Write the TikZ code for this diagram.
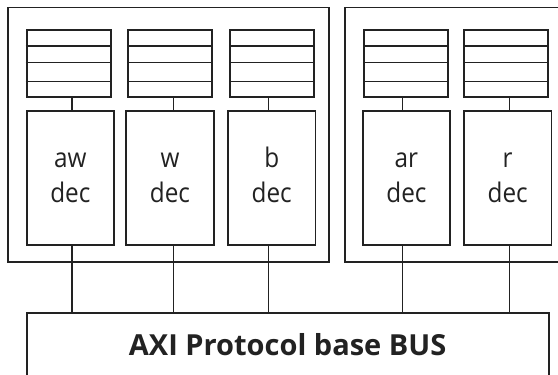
\documentclass[tikz,border=0pt]{standalone}
\usepackage{fontspec}
\setmainfont{Open Sans}
\newfontfamily\decfont[FakeStretch=0.9]{Open Sans}
\newfontfamily\busfont{Open Sans}
\usetikzlibrary{calc}
\definecolor{ink}{HTML}{222222}
\begin{document}
\begin{tikzpicture}[x=1pt,y=-1pt,
  group/.style={draw=ink,line width=1.8pt},
  fifo/.style={draw=ink,line width=1.8pt,rectangle,inner sep=0pt,minimum width=84pt,minimum height=66.4pt,anchor=north west},
  decbox/.style={draw=ink,line width=1.8pt,rectangle,inner sep=0pt,minimum width=87.6pt,minimum height=134.3pt,anchor=north west,
    align=center,text=ink,font=\decfont\fontsize{27}{35.6}\selectfont},
  busbox/.style={draw=ink,line width=1.8pt,rectangle,inner sep=0pt,minimum width=522pt,minimum height=64.3pt,anchor=north west,
    text=ink,font=\busfont\bfseries\fontsize{29}{34}\selectfont},
  wire/.style={draw=ink,line width=1.8pt}
]
\clip (0,0) rectangle (558,375);
\fill[white] (0,0) rectangle (558,375);

% two channel groups
\draw[group] (8,7.5) rectangle (329.3,261.7);
\draw[group] (345.3,7.5) rectangle (566,261.7);

% FIFO buffers
\node[fifo] (fAW) at (25.7,29.3) {};
\node[fifo] (fW)  at (127.3,29.3) {};
\node[fifo] (fB)  at (229.3,29.3) {};
\node[fifo] (fAR) at (363.3,29.3) {};
\node[fifo] (fR)  at (463,29.3) {};
\foreach \f in {fAW,fW,fB,fAR,fR}{
  \foreach \t in {0.247,0.488,0.764}{
    \draw[wire] ($(\f.north west)!\t!(\f.south west)$) -- ($(\f.north east)!\t!(\f.south east)$);
  }
}

% channel decoders
\node[decbox] (dAW) at (25.7,109.7) {\strut aw\\\strut dec};
\node[decbox] (dW)  at (125.3,109.7) {\strut w\\\strut dec};
\node[decbox] (dB)  at (227,109.7) {\strut b\\\strut dec};
\node[decbox] (dAR) at (361.7,109.7) {\strut ar\\\strut dec};
\node[decbox] (dR)  at (463,109.7) {\strut r\\\strut dec};

% shared bus
\node[busbox] (bus) at (25.7,311.7) {AXI Protocol base BUS};

% vertical links per channel
\coordinate (cAW) at (72,0);
\coordinate (cW)  at (173.5,0);
\coordinate (cB)  at (268.5,0);
\coordinate (cAR) at (402.5,0);
\coordinate (cR)  at (509.5,0);
\foreach \c/\f/\d in {cAW/fAW/dAW,cW/fW/dW,cB/fB/dB,cAR/fAR/dAR,cR/fR/dR}{
  \draw[wire] (\c |- \f.south) -- (\c |- \d.north);
  \draw[wire] (\c |- \d.south) -- (\c |- bus.north);
}
\end{tikzpicture}
\end{document}
